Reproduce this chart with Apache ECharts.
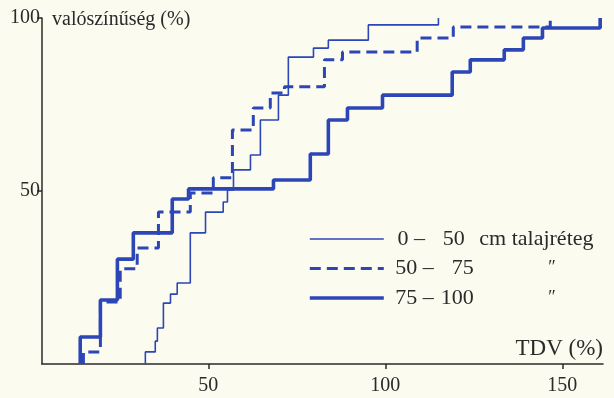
<!DOCTYPE html>
<html>
<head>
<meta charset="utf-8">
<script src="https://cdn.jsdelivr.net/npm/echarts@6/dist/echarts.min.js"></script>
<style>
  html, body { margin: 0; padding: 0; background: #fcfbf0; }
  #chart { width: 614px; height: 398px; }
</style>
</head>
<body>
<div id="chart"></div>
<script>
// jump positions (TDV %) and probability level after each jump (%)
var thinX = [32.2, 35.0, 35.6, 37.3, 39.3, 41.2, 44.9, 49.2, 54.2, 55.4, 57.1, 61.9, 64.7, 69.8, 72.6, 79.7, 83.9, 95.2, 115.0];
var thinY = [3.5, 6.6, 10.4, 17.6, 20.2, 23.4, 37.9, 43.9, 46.8, 50.3, 56.1, 60.4, 70.5, 77.7, 88.7, 91.3, 93.6, 98.0, 100];

var dashX = [14.7, 19.5, 25.1, 29.9, 35.9, 44.9, 51.4, 56.8, 62.7, 67.5, 71.5, 82.8, 87.9, 109.0, 119.2, 146.6];
var dashY = [3.5, 17.9, 27.5, 33.5, 43.9, 49.4, 53.8, 67.6, 74.0, 78.3, 80.1, 87.9, 90.2, 94.2, 97.4, 100];

var thickX = [13.8, 19.5, 24.3, 28.8, 39.8, 44.4, 68.4, 78.8, 83.9, 89.3, 99.2, 118.9, 124.0, 133.6, 139.0, 144.4, 160.7];
var thickY = [7.8, 18.5, 30.3, 37.9, 47.7, 50.6, 53.2, 60.7, 70.5, 74.0, 77.7, 84.4, 87.9, 90.8, 94.2, 97.1, 100];

var xTicks = [50, 100, 150];
var yTicks = [50, 100];
var names = ['0-50', '50-75', '75-100'];

var blue = '#2c46b6';
var ink = '#2a2a2a';
var font = 'Liberation Serif';

function steps(xs, ys) {
  var d = [[xs[0], 0]];
  for (var i = 0; i < xs.length; i++) d.push([xs[i], ys[i]]);
  return d;
}

var chart = echarts.init(document.getElementById('chart'));

var lg = { fontFamily: font, fontSize: 22, color: ink, lineHeight: 18 };

option = {
  backgroundColor: '#fcfbf0',
  animation: false,
  grid: { left: 42, right: 11, top: 18, bottom: 34 },
  legend: {
    orient: 'vertical',
    left: 303,
    top: 223,
    itemWidth: 74,
    itemHeight: 18,
    itemGap: 7.5,
    itemStyle: { opacity: 0 },
    data: [
      { name: names[0], lineStyle: { width: 1.6 }, itemStyle: { opacity: 0 } },
      { name: names[1], lineStyle: { width: 3, type: [11, 6] }, itemStyle: { opacity: 0 } },
      { name: names[2], lineStyle: { width: 3.6 }, itemStyle: { opacity: 0 } }
    ],
    textStyle: {
      fontFamily: font,
      fontSize: 22,
      color: ink,
      lineHeight: 18,
      rich: {
        a: Object.assign({ width: 45, align: 'right' }, lg),
        b: Object.assign({ width: 40, align: 'right' }, lg),
        c: Object.assign({}, lg),
        q: { width: 82, align: 'right', fontFamily: font, fontSize: 18, color: ink, lineHeight: 18 }
      }
    },
    formatter: function (name) {
      if (name === '0-50') return '{a|0 –}{b|50}{c| cm talajréteg}';
      if (name === '50-75') return '{a|50 –}{b|75}{q|″}';
      return '{a|75 –}{b|100}{q|″}';
    }
  },
  xAxis: {
    type: 'value',
    min: 3,
    max: 161.5,
    name: 'TDV (%)',
    nameLocation: 'end',
    nameGap: 0,
    nameTextStyle: { fontFamily: font, fontSize: 23, color: ink, align: 'right', verticalAlign: 'bottom', padding: [0, 0, 4, 0] },
    axisLine: { lineStyle: { color: ink, width: 1.5 } },
    axisTick: { customValues: xTicks, length: 5, lineStyle: { color: ink, width: 1.5 } },
    axisLabel: { customValues: xTicks, margin: 12, fontFamily: font, fontSize: 20, color: ink },
    splitLine: { show: false }
  },
  yAxis: {
    type: 'value',
    min: 0,
    max: 100,
    name: 'valószínűség (%)',
    nameLocation: 'end',
    nameGap: -2,
    nameTextStyle: { fontFamily: font, fontSize: 20, color: ink, align: 'left', verticalAlign: 'middle', padding: [0, 0, 0, 10] },
    axisLine: { show: true, lineStyle: { color: ink, width: 1.5 } },
    axisTick: { show: true, customValues: yTicks, length: 5, lineStyle: { color: ink, width: 1.5 } },
    axisLabel: { customValues: yTicks, margin: 2, fontFamily: font, fontSize: 20, color: ink },
    splitLine: { show: false }
  },
  series: [
    {
      name: '0-50',
      type: 'line',
      step: 'end',
      symbol: 'none',
      data: steps(thinX, thinY),
      lineStyle: { color: blue, width: 1.6 },
      itemStyle: { color: blue }
    },
    {
      name: '50-75',
      type: 'line',
      step: 'end',
      symbol: 'none',
      data: steps(dashX, dashY),
      lineStyle: { color: blue, width: 3, type: [11, 6] },
      itemStyle: { color: blue }
    },
    {
      name: '75-100',
      type: 'line',
      step: 'end',
      symbol: 'none',
      data: steps(thickX, thickY),
      lineStyle: { color: blue, width: 3.6 },
      itemStyle: { color: blue }
    }
  ]
};

chart.setOption(option);
</script>
</body>
</html>
